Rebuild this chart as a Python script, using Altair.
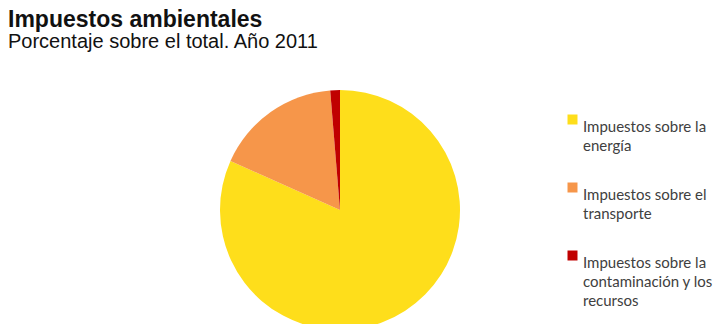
import json
import altair as alt
import pandas as pd

categorias = [
    "Impuestos sobre la energía",
    "Impuestos sobre el transporte",
    "Impuestos sobre la contaminación y los recursos",
]
lineas_leyenda = [
    ["Impuestos sobre la", "energía"],
    ["Impuestos sobre el", "transporte"],
    ["Impuestos sobre la", "contaminación y los", "recursos"],
]
porcentajes = [81.7, 17.0, 1.3]
colores = ["#FEDE1B", "#F6964A", "#C00000"]

df = pd.DataFrame({
    "categoria": categorias,
    "porcentaje": porcentajes,
    "orden": list(range(len(categorias))),
})

expr = json.dumps(lineas_leyenda[-1], ensure_ascii=False)
for cat, lines in reversed(list(zip(categorias[:-1], lineas_leyenda[:-1]))):
    expr = f"datum.label == {json.dumps(cat, ensure_ascii=False)} ? {json.dumps(lines, ensure_ascii=False)} : ({expr})"

chart = alt.Chart(df).mark_arc(outerRadius=120, strokeWidth=0).encode(
    theta=alt.Theta("porcentaje:Q", stack=True),
    order=alt.Order("orden:Q"),
    color=alt.Color(
        "categoria:N",
        scale=alt.Scale(domain=categorias, range=colores),
        legend=alt.Legend(
            title=None,
            orient="none",
            legendX=565,
            legendY=52,
            symbolType="square",
            symbolSize=100,
            symbolStrokeWidth=0,
            labelExpr=expr,
            labelFont="Lato",
            labelFontSize=15,
            labelColor="#404040",
            labelLimit=300,
            labelOffset=3,
            rowPadding=26,
            labelBaseline="top",
        ),
    ),
    x=alt.value(340),
    y=alt.value(150),
).properties(
    width=723,
    height=264,
    padding={"left": 0, "top": 60, "right": 0, "bottom": 0},
    autosize="none",
    title=alt.TitleParams(
        "Impuestos ambientales",
        subtitle="Porcentaje sobre el total. Año 2011",
        anchor="start",
        frame="group",
        dx=8,
        offset=8,
        font="Liberation Sans",
        fontSize=23,
        fontWeight="bold",
        color="#111111",
        subtitleFont="Liberation Sans",
        subtitleFontSize=20,
        subtitleColor="#111111",
        subtitlePadding=0,
    ),
).configure(
    view={"strokeWidth": 0},
    style={"guide-label": {"lineHeight": 19}},
)

chart.save("out.html", embed_options={"renderer": "svg", "actions": False})
